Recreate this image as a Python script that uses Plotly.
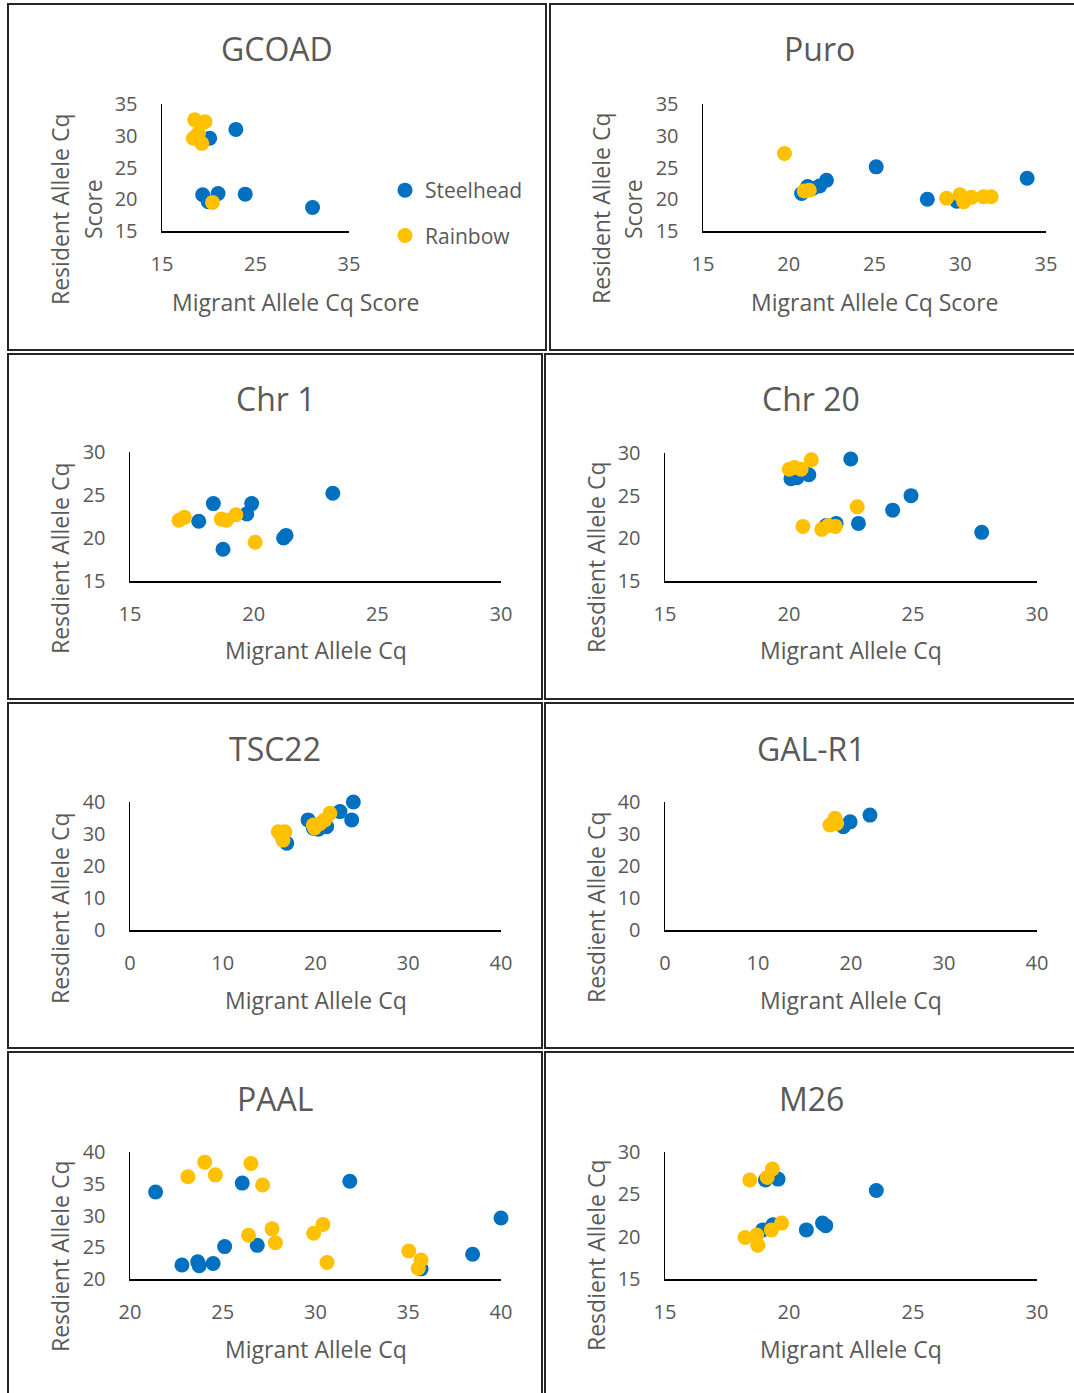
import plotly.graph_objects as go

W, H = 1074, 1393

# ---------------- data ----------------
panel_titles = ["GCOAD", "Puro", "Chr 1", "Chr 20", "TSC22", "GAL-R1", "PAAL", "M26"]
x_titles = ["Migrant Allele Cq Score", "Migrant Allele Cq Score", "Migrant Allele Cq",
            "Migrant Allele Cq", "Migrant Allele Cq", "Migrant Allele Cq",
            "Migrant Allele Cq", "Migrant Allele Cq"]
y_titles = [["Resident Allele Cq", "Score"], ["Resident Allele Cq", "Score"],
            ["Resdient Allele Cq"], ["Resdient Allele Cq"], ["Resdient Allele Cq"],
            ["Resdient Allele Cq"], ["Resdient Allele Cq"], ["Resdient Allele Cq"]]
series_names = ["Steelhead", "Rainbow"]

x_ranges = [[15, 35], [15, 35], [15, 30], [15, 30], [0, 40], [0, 40], [20, 40], [15, 30]]
y_ranges = [[15, 35], [15, 35], [15, 30], [15, 30], [0, 40], [0, 40], [20, 40], [15, 30]]
x_dticks = [10, 5, 5, 5, 10, 10, 5, 5]
y_dticks = [5, 5, 5, 5, 10, 10, 5, 5]

gcoad_steel_x = [22.9, 20.1, 19.35, 21.0, 19.95, 23.9, 31.1]
gcoad_steel_y = [31.0, 29.6, 20.7, 20.9, 19.6, 20.8, 18.7]
gcoad_rain_x = [18.5, 19.6, 18.9, 18.35, 19.25, 18.7, 20.4]
gcoad_rain_y = [32.5, 32.2, 30.4, 29.6, 28.8, 30.0, 19.5]

puro_steel_x = [25.1, 22.2, 21.8, 20.75, 21.4, 21.1, 28.08, 29.8, 33.9]
puro_steel_y = [25.1, 23.0, 22.1, 20.9, 21.7, 22.0, 20.0, 19.7, 23.3]
puro_rain_x = [19.75, 20.9, 21.2, 29.2, 29.98, 30.2, 30.65, 31.35, 31.8]
puro_rain_y = [27.2, 21.3, 21.4, 20.15, 20.7, 19.6, 20.3, 20.4, 20.4]

chr1_steel_x = [23.2, 18.37, 19.92, 19.72, 17.78, 21.21, 21.31, 18.76]
chr1_steel_y = [25.2, 24.0, 24.0, 22.8, 21.95, 20.0, 20.3, 18.7]
chr1_rain_x = [16.98, 17.2, 18.69, 18.9, 19.28, 20.06]
chr1_rain_y = [22.07, 22.4, 22.2, 22.07, 22.7, 19.5]

chr20_steel_x = [22.49, 20.08, 20.32, 20.8, 24.92, 24.18, 22.8, 21.9, 21.5, 27.77]
chr20_steel_y = [29.3, 26.98, 27.1, 27.45, 25.0, 23.3, 21.75, 21.75, 21.5, 20.7]
chr20_rain_x = [20.01, 20.22, 20.49, 20.9, 22.75, 20.56, 21.32, 21.59, 21.87]
chr20_rain_y = [28.1, 28.3, 28.1, 29.2, 23.7, 21.4, 21.05, 21.5, 21.4]

tsc22_steel_x = [24.08, 23.9, 22.64, 19.2, 19.77, 21.2, 16.9, 20.3]
tsc22_steel_y = [40.0, 34.4, 37.0, 34.4, 31.8, 32.3, 27.1, 31.5]
tsc22_rain_x = [16.0, 16.35, 16.7, 16.5, 19.77, 20.5, 21.0, 21.56, 19.9]
tsc22_rain_y = [30.7, 29.2, 30.7, 28.1, 32.8, 33.3, 34.4, 36.5, 31.9]

galr1_steel_x = [22.04, 19.9, 19.17]
galr1_steel_y = [35.9, 33.8, 32.3]
galr1_rain_x = [18.28, 17.74, 18.46]
galr1_rain_y = [34.9, 32.8, 33.3]

paal_steel_x = [21.38, 26.05, 31.85, 40.0, 38.47, 35.69, 25.1, 26.86, 22.8, 23.65, 23.73, 24.48]
paal_steel_y = [33.7, 35.1, 35.4, 29.6, 23.9, 21.6, 25.1, 25.3, 22.2, 22.7, 22.1, 22.45]
paal_rain_x = [24.03, 26.52, 23.12, 24.6, 27.15, 26.39, 27.66, 27.84, 30.4, 29.9, 30.62, 35.03, 35.69, 35.54]
paal_rain_y = [38.4, 38.2, 36.1, 36.4, 34.8, 26.9, 27.9, 25.7, 28.6, 27.2, 22.6, 24.4, 23.0, 21.7]

m26_steel_x = [23.52, 19.56, 19.05, 20.7, 21.35, 21.48, 18.94, 19.35]
m26_steel_y = [25.46, 26.8, 26.7, 20.8, 21.6, 21.3, 20.8, 21.4]
m26_rain_x = [18.42, 19.12, 19.33, 19.7, 19.29, 18.23, 18.7, 18.74]
m26_rain_y = [26.7, 27.0, 28.0, 21.6, 20.8, 19.9, 20.2, 19.0]

steel = [(gcoad_steel_x, gcoad_steel_y), (puro_steel_x, puro_steel_y),
         (chr1_steel_x, chr1_steel_y), (chr20_steel_x, chr20_steel_y),
         (tsc22_steel_x, tsc22_steel_y), (galr1_steel_x, galr1_steel_y),
         (paal_steel_x, paal_steel_y), (m26_steel_x, m26_steel_y)]
rain = [(gcoad_rain_x, gcoad_rain_y), (puro_rain_x, puro_rain_y),
        (chr1_rain_x, chr1_rain_y), (chr20_rain_x, chr20_rain_y),
        (tsc22_rain_x, tsc22_rain_y), (galr1_rain_x, galr1_rain_y),
        (paal_rain_x, paal_rain_y), (m26_rain_x, m26_rain_y)]

# ---------------- layout (pixel geometry) ----------------
plot_boxes = [  # x0, x1, ytop, ybottom in pixels
    (162, 349, 104, 231), (703, 1046, 104, 231),
    (130, 501, 452, 581), (665, 1037, 453, 581),
    (130, 501, 802, 930), (665, 1037, 802, 930),
    (130, 501, 1152, 1279), (665, 1037, 1152, 1279),
]
frames = [
    (8, 546, 4, 350), (550, 1080, 4, 350),
    (8, 542, 354, 699), (545, 1080, 354, 699),
    (8, 542, 703, 1048), (545, 1080, 703, 1048),
    (8, 542, 1052, 1400), (545, 1080, 1052, 1400),
]
title_pos = [(277, 48), (819, 48), (275, 398), (811, 398),
             (275, 748), (811, 748), (275, 1098), (811, 1098)]
xtitle_pos = [(296, 302), (875, 302), (316, 650), (851, 650),
              (316, 1000), (851, 1000), (316, 1349), (851, 1349)]
ytitle_pos = [[(60, 209), (93, 209)], [(601, 209), (633, 209)],
              [(60, 558)], [(596, 558)], [(60, 908)], [(596, 908)],
              [(60, 1256)], [(596, 1256)]]

FONT = "Open Sans"
GREY = "#595959"
BLUE = "#0070C0"
GOLD = "#FFC000"


def px(x):
    return x / W


def py(y):
    return 1 - y / H


fig = go.Figure()
layout = dict(template="none", width=W, height=H,
              margin=dict(l=0, r=0, t=0, b=0, pad=0, autoexpand=False), autosize=False,
              paper_bgcolor="white", plot_bgcolor="white",
              font=dict(family=FONT, color=GREY))
annotations = []
shapes = []

for i in range(8):
    n = i + 1
    xa = "x" if n == 1 else f"x{n}"
    ya = "y" if n == 1 else f"y{n}"
    x0, x1, yt, yb = plot_boxes[i]
    common = dict(showgrid=False, zeroline=False, showline=True, linecolor="black",
                  linewidth=1.5, ticks="", tickfont=dict(family=FONT, size=20, color=GREY),
                  automargin=False, fixedrange=True)
    layout["xaxis" if n == 1 else f"xaxis{n}"] = dict(
        domain=[px(x0), px(x1)], range=x_ranges[i], dtick=x_dticks[i], tick0=x_ranges[i][0],
        anchor=ya, ticklabelstandoff=14, **common)
    layout["yaxis" if n == 1 else f"yaxis{n}"] = dict(
        domain=[py(yb), py(yt)], range=y_ranges[i], dtick=y_dticks[i], tick0=y_ranges[i][0],
        anchor=xa, ticklabelstandoff=19, **common)

    for (sx, sy), name, color in ((steel[i], series_names[0], BLUE),
                                  (rain[i], series_names[1], GOLD)):
        fig.add_trace(go.Scatter(
            x=sx, y=sy, mode="markers", name=name, xaxis=xa, yaxis=ya,
            marker=dict(color=color, size=15, line=dict(width=0)),
            cliponaxis=False, showlegend=(i == 0), legendgroup=name))

    tx, ty = title_pos[i]
    annotations.append(dict(text=panel_titles[i], x=px(tx), y=py(ty), xref="paper", yref="paper",
                            xanchor="center", yanchor="middle", showarrow=False,
                            font=dict(family=FONT, size=32, color=GREY)))
    tx, ty = xtitle_pos[i]
    annotations.append(dict(text=x_titles[i], x=px(tx), y=py(ty), xref="paper", yref="paper",
                            xanchor="center", yanchor="middle", showarrow=False,
                            font=dict(family=FONT, size=23, color=GREY)))
    for line, (tx, ty) in zip(y_titles[i], ytitle_pos[i]):
        annotations.append(dict(text=line, x=px(tx), y=py(ty), xref="paper", yref="paper",
                                xanchor="center", yanchor="middle", showarrow=False,
                                textangle=-90,
                                font=dict(family=FONT, size=23, color=GREY)))
    fx0, fx1, fy0, fy1 = frames[i]
    shapes.append(dict(type="rect", xref="paper", yref="paper",
                       x0=px(fx0), x1=px(fx1), y0=py(fy1), y1=py(fy0),
                       line=dict(color="#262626", width=2), fillcolor="rgba(0,0,0,0)"))

layout["annotations"] = annotations
layout["shapes"] = shapes
layout["legend"] = dict(x=px(385), y=py(170), xanchor="left", yanchor="top",
                        bgcolor="rgba(0,0,0,0)", tracegroupgap=15,
                        font=dict(family=FONT, size=21, color=GREY), itemsizing="trace")
layout["showlegend"] = True
fig.update_layout(**layout)

fig.write_html("out.html", config={"displayModeBar": False, "staticPlot": True},
               post_script="document.body.style.margin='0';document.body.style.overflow='hidden';")
